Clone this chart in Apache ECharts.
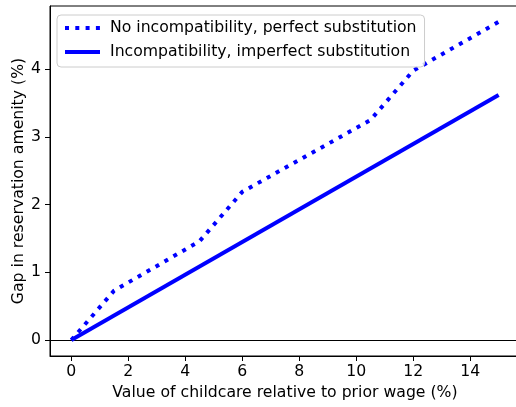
<!DOCTYPE html>
<html>
<head>
<meta charset="utf-8">
<script src="https://cdn.jsdelivr.net/npm/echarts@6/dist/echarts.min.js"></script>
<style>
  html, body { margin: 0; padding: 0; background: #fff; }
  #chart { width: 516px; height: 407px; }
</style>
</head>
<body>
<div id="chart"></div>
<script>
// Tick positions on each axis
const xTicks = [0, 2, 4, 6, 8, 10, 12, 14];
const yTicks = [0, 1, 2, 3, 4];

// Gap in reservation amenity (%) against childcare value (% of prior wage),
// given at the kinks of each piecewise-linear curve
const perfectX = [0, 1.5, 4.5, 6, 10.5, 12, 15];
const perfectY = [0, 0.73, 1.46, 2.19, 3.25, 3.98, 4.70];
const imperfectX = [0, 15];
const imperfectY = [0, 3.62];

const seriesNames = [
  'No incompatibility, perfect substitution',
  'Incompatibility, imperfect substitution'
];

const FONT = 'DejaVu Sans';
const FS = 15.7;
const BLUE = '#0000ff';
const DOTS = [4, 6.3];
const pairs = (xs, ys) => xs.map((x, i) => [x, ys[i]]);

const chart = echarts.init(document.getElementById('chart'), null, { renderer: 'canvas' });

chart.setOption({
  animation: false,
  backgroundColor: '#fff',
  textStyle: { fontFamily: FONT, color: '#000' },
  grid: {
    left: 50, top: 6, width: 470, height: 350,
    outerBoundsMode: 'none',
    containLabel: false,
    show: true, borderColor: '#000', borderWidth: 1, backgroundColor: 'transparent'
  },
  legend: {
    orient: 'vertical',
    left: 57, top: 15,
    padding: [5, 8, 7, 6],
    itemGap: 8,
    itemWidth: 35,
    itemHeight: 16,
    backgroundColor: 'rgba(255,255,255,0.8)',
    borderColor: '#cccccc',
    borderWidth: 1,
    borderRadius: 4,
    itemStyle: { opacity: 0 },
    textStyle: { fontFamily: FONT, fontSize: FS, color: '#000', padding: [0, 0, 0, 5] },
    data: [
      { name: seriesNames[0], lineStyle: { color: BLUE, width: 4, type: DOTS, cap: 'butt' } },
      { name: seriesNames[1], lineStyle: { color: BLUE, width: 4, type: 'solid' } }
    ]
  },
  xAxis: {
    type: 'value',
    min: -0.75, max: 15.75,
    name: 'Value of childcare relative to prior wage (%)',
    nameLocation: 'middle',
    nameGap: 29,
    nameMoveOverlap: false,
    nameTextStyle: { fontFamily: FONT, fontSize: FS, color: '#000' },
    splitLine: { show: false },
    axisLine: { show: true, onZero: false, lineStyle: { color: '#000', width: 1 } },
    axisTick: { show: true, inside: false, length: 5, customValues: xTicks, lineStyle: { color: '#000', width: 1 } },
    axisLabel: { show: true, margin: 8, fontFamily: FONT, fontSize: FS, color: '#000', customValues: xTicks }
  },
  yAxis: {
    type: 'value',
    min: -0.235, max: 4.935,
    name: 'Gap in reservation amenity (%)',
    nameLocation: 'middle',
    nameGap: 23,
    nameMoveOverlap: false,
    nameTextStyle: { fontFamily: FONT, fontSize: FS, color: '#000' },
    splitLine: { show: false },
    axisLine: { show: true, onZero: false, lineStyle: { color: '#000', width: 1 } },
    axisTick: { show: true, inside: false, length: 5, customValues: yTicks, lineStyle: { color: '#000', width: 1 } },
    axisLabel: { show: true, margin: 9, fontFamily: FONT, fontSize: FS, color: '#000', customValues: yTicks }
  },
  series: [
    {
      name: seriesNames[0],
      type: 'line',
      data: pairs(perfectX, perfectY),
      symbol: 'none',
      showSymbol: false,
      z: 3,
      lineStyle: { color: BLUE, width: 4, type: DOTS, cap: 'butt' },
      itemStyle: { color: BLUE },
      markLine: {
        silent: true,
        symbol: 'none',
        label: { show: false },
        lineStyle: { color: '#000', width: 1.2, type: 'solid' },
        data: [{ yAxis: 0 }],
        z: 1
      }
    },
    {
      name: seriesNames[1],
      type: 'line',
      data: pairs(imperfectX, imperfectY),
      symbol: 'none',
      showSymbol: false,
      z: 4,
      lineStyle: { color: BLUE, width: 4, type: 'solid' },
      itemStyle: { color: BLUE }
    }
  ]
});
</script>
</body>
</html>
